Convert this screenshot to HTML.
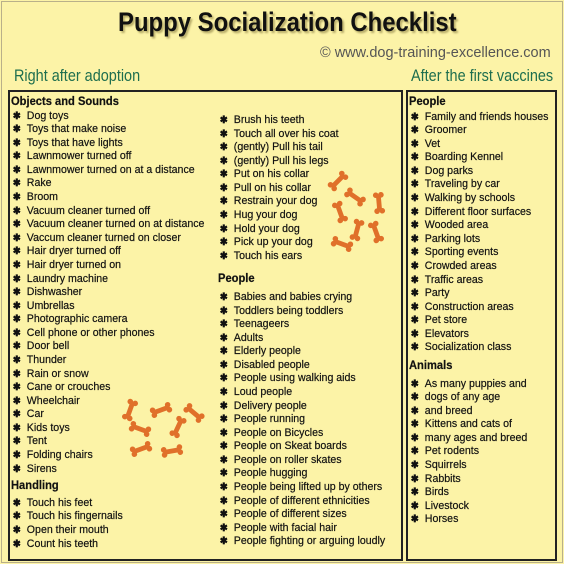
<!DOCTYPE html>
<html><head><meta charset="utf-8"><style>
*{margin:0;padding:0;box-sizing:border-box}
body{width:564px;height:564px;background:#fcf3a7;position:relative;overflow:hidden;font-family:"Liberation Sans",sans-serif;color:#111}
.frame{position:absolute;left:1px;top:1px;width:562px;height:562px;border:1px solid #b9b08a}
.title{position:absolute;left:118px;top:7px;font-size:27px;font-weight:bold;white-space:nowrap;transform:scaleX(0.885);transform-origin:left;text-shadow:2px 2px 2px #b8ad6a;color:#111}
.copy{position:absolute;left:320px;top:45px;font-size:14.5px;color:#555;white-space:nowrap;transform:scaleX(1.0);transform-origin:left}
.sec{position:absolute;font-size:17px;color:#1e6e4e;white-space:nowrap;transform:scaleX(0.85);transform-origin:left}
.box{position:absolute;border:2px solid #222}
.col{position:absolute;font-size:11.4px;line-height:13.58px;white-space:nowrap;transform:scaleX(0.93);transform-origin:left top;-webkit-text-stroke:0.2px #111}
.col div{height:13.58px}
.col .h{font-weight:bold;font-size:12px}
.col .i{padding-left:17px;position:relative}
.col .i:before{content:"✱";position:absolute;left:2px;font-size:10px;top:0;font-weight:bold}
</style></head><body>
<div class="frame"></div>
<div class="title">Puppy Socialization Checklist</div>
<div class="copy">© www.dog-training-excellence.com</div>
<div class="sec" style="left:14px;top:66px">Right after adoption</div>
<div class="sec" style="left:411px;top:66px">After the first vaccines</div>
<div class="box" style="left:8px;top:90px;width:395px;height:471px"></div>
<div class="box" style="left:406px;top:90px;width:151px;height:471px"></div>

<div class="col" style="left:11px;top:95px">
<div class="h">Objects and Sounds</div>
<div class="i" style="margin-top:1px">Dog toys</div><div class="i">Toys that make noise</div><div class="i">Toys that have lights</div><div class="i">Lawnmower turned off</div><div class="i">Lawnmower turned on at a distance</div><div class="i">Rake</div><div class="i">Broom</div><div class="i">Vacuum cleaner turned off</div><div class="i">Vacuum cleaner turned on at distance</div><div class="i">Vaccum cleaner turned on closer</div><div class="i">Hair dryer turned off</div><div class="i">Hair dryer turned on</div><div class="i">Laundry machine</div><div class="i">Dishwasher</div><div class="i">Umbrellas</div><div class="i">Photographic camera</div><div class="i">Cell phone or other phones</div><div class="i">Door bell</div><div class="i">Thunder</div><div class="i">Rain or snow</div><div class="i">Cane or crouches</div><div class="i">Wheelchair</div><div class="i">Car</div><div class="i">Kids toys</div><div class="i">Tent</div><div class="i">Folding chairs</div><div class="i">Sirens</div>
<div class="h" style="margin-top:3px">Handling</div>
<div class="i" style="margin-top:4px">Touch his feet</div><div class="i">Touch his fingernails</div><div class="i">Open their mouth</div><div class="i">Count his teeth</div>
</div>

<div class="col" style="left:218px;top:114px">
<div class="i">Brush his teeth</div><div class="i">Touch all over his coat</div><div class="i">(gently) Pull his tail</div><div class="i">(gently) Pull his legs</div><div class="i">Put on his collar</div><div class="i">Pull on his collar</div><div class="i">Restrain your dog</div><div class="i">Hug your dog</div><div class="i">Hold your dog</div><div class="i">Pick up your dog</div><div class="i">Touch his ears</div>
<div class="h" style="margin-top:9px">People</div>
<div class="i" style="margin-top:5px">Babies and babies crying</div><div class="i">Toddlers being toddlers</div><div class="i">Teenageers</div><div class="i">Adults</div><div class="i">Elderly people</div><div class="i">Disabled people</div><div class="i">People using walking aids</div><div class="i">Loud people</div><div class="i">Delivery people</div><div class="i">People running</div><div class="i">People on Bicycles</div><div class="i">People on Skeat boards</div><div class="i">People on roller skates</div><div class="i">People hugging</div><div class="i">People being lifted up by others</div><div class="i">People of different ethnicities</div><div class="i">People of different sizes</div><div class="i">People with facial hair</div><div class="i">People fighting or arguing loudly</div>
</div>

<div class="col" style="left:409px;top:95px">
<div class="h">People</div>
<div class="i" style="margin-top:2px">Family and friends houses</div><div class="i">Groomer</div><div class="i">Vet</div><div class="i">Boarding Kennel</div><div class="i">Dog parks</div><div class="i">Traveling by car</div><div class="i">Walking by schools</div><div class="i">Different floor surfaces</div><div class="i">Wooded area</div><div class="i">Parking lots</div><div class="i">Sporting events</div><div class="i">Crowded areas</div><div class="i">Traffic areas</div><div class="i">Party</div><div class="i">Construction areas</div><div class="i">Pet store</div><div class="i">Elevators</div><div class="i">Socialization class</div>
<div class="h" style="margin-top:4px">Animals</div>
<div class="i" style="margin-top:5px">As many puppies and</div><div class="i">dogs of any age</div><div class="i">and breed</div><div class="i">Kittens and cats of</div><div class="i">many ages and breed</div><div class="i">Pet rodents</div><div class="i">Squirrels</div><div class="i">Rabbits</div><div class="i">Birds</div><div class="i">Livestock</div><div class="i">Horses</div>
</div>

<svg width="564" height="564" style="position:absolute;left:0;top:0">
<defs><g id="bone" fill="#e0702a"><rect x="-8" y="-2.4" width="16" height="4.8"/><circle cx="-8" cy="-2.6" r="2.8"/><circle cx="-8" cy="2.6" r="2.8"/><circle cx="8" cy="-2.6" r="2.8"/><circle cx="8" cy="2.6" r="2.8"/></g></defs>
<use href="#bone" transform="translate(130,410) rotate(-70)"/>
<use href="#bone" transform="translate(161,410) rotate(-20)"/>
<use href="#bone" transform="translate(194,413) rotate(40)"/>
<use href="#bone" transform="translate(140,429) rotate(20)"/>
<use href="#bone" transform="translate(178,427) rotate(-65)"/>
<use href="#bone" transform="translate(141,449) rotate(-20)"/>
<use href="#bone" transform="translate(172,451) rotate(-10)"/>
<use href="#bone" transform="translate(338,181) rotate(-45)"/>
<use href="#bone" transform="translate(355,197) rotate(35)"/>
<use href="#bone" transform="translate(379,203) rotate(85)"/>
<use href="#bone" transform="translate(340,212) rotate(70)"/>
<use href="#bone" transform="translate(357,230) rotate(-75)"/>
<use href="#bone" transform="translate(376,232) rotate(70)"/>
<use href="#bone" transform="translate(342,244) rotate(20)"/>
</svg>
</body></html>
